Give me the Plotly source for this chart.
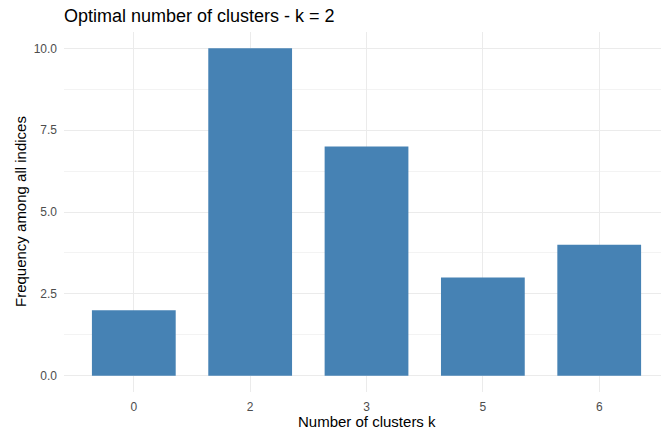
import plotly.graph_objects as go

categories = ["0", "2", "3", "5", "6"]
frequencies = [2, 10, 7, 3, 4]
y_ticks = [0, 2.5, 5, 7.5, 10]
y_tick_labels = ["0.0", "2.5", "5.0", "7.5", "10.0"]

W, H = 661, 432
L, R, T, B = 64, 0, 32, 40

fig = go.Figure()
fig.add_trace(go.Bar(
    x=categories, y=frequencies, width=0.72,
    marker=dict(color="#4682B4", line=dict(width=0)),
))

fig.update_layout(
    width=W, height=H,
    margin=dict(l=L, r=R, t=T, b=B, pad=0, autoexpand=False),
    paper_bgcolor="white", plot_bgcolor="white",
    font=dict(family="Liberation Sans, Arial, sans-serif", color="#4d4d4d", size=12),
    showlegend=False,
    title=dict(text="Optimal number of clusters - k = 2",
               font=dict(size=18, color="#000000"),
               x=L / W, xanchor="left", xref="container",
               y=1 - 16 / H, yanchor="middle", yref="container", automargin=False),
    xaxis=dict(type="category", range=[-0.6, 4.531], automargin=False,
               showgrid=True, gridcolor="#ebebeb", gridwidth=1,
               zeroline=False, showline=False, ticks="",
               ticklabelstandoff=6,
               tickfont=dict(size=12, color="#4d4d4d")),
    yaxis=dict(range=[-0.5, 10.5], tickvals=y_ticks, ticktext=y_tick_labels, automargin=False,
               showgrid=True, gridcolor="#ebebeb", gridwidth=1,
               minor=dict(dtick=1.25, tick0=0, showgrid=True, gridcolor="#f3f3f3", gridwidth=0.6),
               zeroline=False, showline=False, ticks="",
               ticklabelstandoff=6,
               tickfont=dict(size=12, color="#4d4d4d")),
    annotations=[
        dict(text="Number of clusters k", xref="x", x=2, yref="paper", y=-(421 - (H - B)) / (H - T - B),
             yanchor="middle", xanchor="center", showarrow=False,
             font=dict(size=15, color="#000000")),
        dict(text="Frequency among all indices", xref="paper", x=-(L - 20) / (W - L - R), xanchor="center",
             yref="paper", y=0.5, yanchor="middle", textangle=-90, showarrow=False,
             font=dict(size=15, color="#000000")),
    ],
)

fig.write_html("out.html", config={"displayModeBar": False},
               post_script="document.body.style.margin='0';document.body.style.overflow='hidden';")
